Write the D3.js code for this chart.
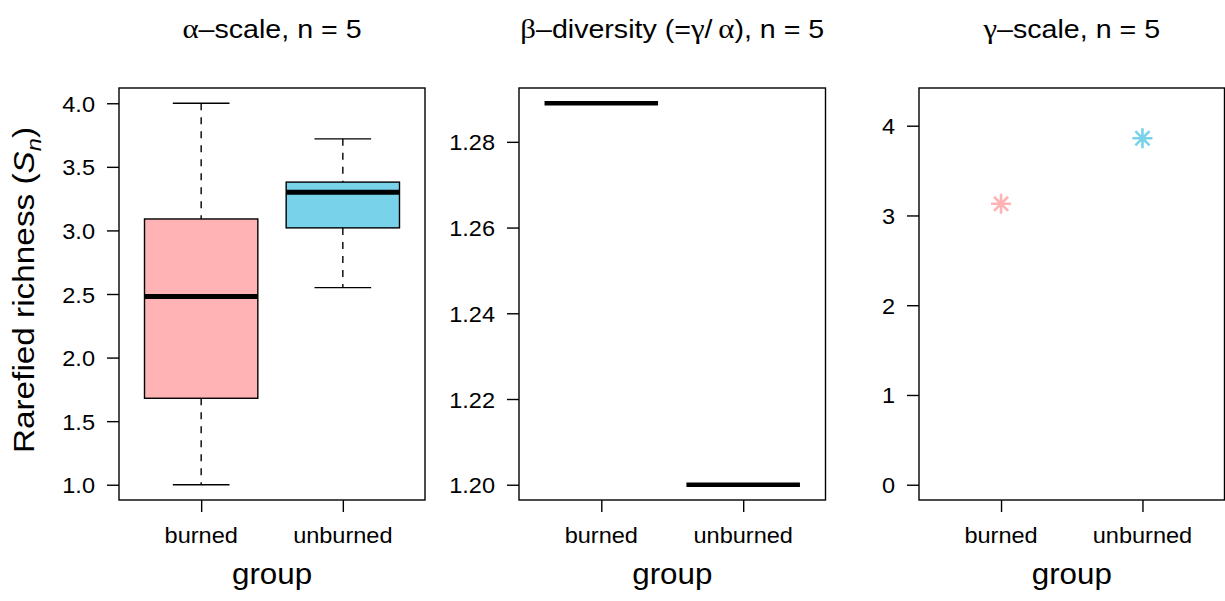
<!DOCTYPE html>
<html>
<head>
<meta charset="utf-8">
<script src="https://cdn.jsdelivr.net/npm/d3@7"></script>
<style>
  html, body { margin: 0; padding: 0; background: #fff; }
  svg { display: block; }
  text { font-family: "Liberation Sans", Arial, Helvetica, sans-serif; fill: #000; }
</style>
</head>
<body>
<svg id="chart" width="1225" height="601"></svg>
<script>
// ---------------- data ----------------
const groups = ["burned", "unburned"];
const groupColors = ["#FFB3B5", "#78D2EA"];

// alpha-scale boxplot statistics (rarefied richness)
const alphaLowerWhisker = [1.00, 2.55];
const alphaQ1           = [1.68, 3.02];
const alphaMedian       = [2.48, 3.30];
const alphaQ3           = [3.09, 3.38];
const alphaUpperWhisker = [4.00, 3.72];

// beta-diversity (gamma / alpha), one value per group
const betaValues = [1.289, 1.200];

// gamma-scale rarefied richness, one value per group
const gammaValues = [3.13, 3.86];

const alphaTicks = [1.0, 1.5, 2.0, 2.5, 3.0, 3.5, 4.0];
const betaTicks  = [1.20, 1.22, 1.24, 1.26, 1.28];
const gammaTicks = [0, 1, 2, 3, 4];

const titles = [
  [["α", "g"], ["–scale, n = 5", "s"]],
  [["β", "g"], ["–diversity (=", "s"], ["γ", "g"], ["/\u2009", "s"], ["α", "g"], ["), n = 5", "s"]],
  [["γ", "g"], ["–scale, n = 5", "s"]]
];
const xLabel = "group";

// ---------------- layout ----------------
const svg = d3.select("#chart");
const TOP = 88, BOTTOM = 500;
const panels = [
  { x0: 119, x1: 425 },
  { x0: 519, x1: 825.5 },
  { x0: 919, x1: 1224.5 }
];
const LW = 1.4;        // general line width

function xScaleFor(p) {
  return d3.scaleLinear().domain([0.42, 2.58]).range([p.x0, p.x1]);
}
function padDomain(lo, hi) {
  const r = hi - lo;
  return [lo - 0.04 * r, hi + 0.04 * r];
}

const yAlpha = d3.scaleLinear().domain(padDomain(1.0, 4.0)).range([BOTTOM, TOP]);
const yBeta  = d3.scaleLinear().domain(padDomain(d3.min(betaValues), d3.max(betaValues))).range([BOTTOM, TOP]);
const yGamma = d3.scaleLinear().domain(padDomain(0, 4.25)).range([BOTTOM, TOP]);

function label(g, x, y, str, size, anchor, sx) {
  return g.append("text")
    .attr("transform", `translate(${x},${y}) scale(${sx},1)`)
    .attr("text-anchor", anchor)
    .attr("font-size", size)
    .text(str);
}

function drawFrame(p, yScale, ticks, fmt) {
  const g = svg.append("g");
  const xs = xScaleFor(p);
  // y axis ticks
  const yAx = d3.axisLeft(yScale).tickValues(ticks).tickSize(12).tickFormat("");
  const ya = g.append("g").attr("transform", `translate(${p.x0},0)`).call(yAx);
  ya.select(".domain").remove();
  ya.selectAll("line").attr("stroke", "#000").attr("stroke-width", LW);
  ticks.forEach(t => label(g, p.x0 - 24, yScale(t) + 8.5, fmt(t), 22, "end", 1.07));
  // x axis ticks
  const xAx = d3.axisBottom(xs).tickValues([1, 2]).tickSize(12).tickFormat("");
  const xa = g.append("g").attr("transform", `translate(0,${BOTTOM})`).call(xAx);
  xa.select(".domain").remove();
  xa.selectAll("line").attr("stroke", "#000").attr("stroke-width", LW);
  groups.forEach((gr, i) => label(g, xs(i + 1), 543, gr, 22, "middle", 1.07));
  // box
  g.append("rect")
    .attr("x", p.x0).attr("y", TOP)
    .attr("width", p.x1 - p.x0).attr("height", BOTTOM - TOP)
    .attr("fill", "none").attr("stroke", "#000").attr("stroke-width", LW);
  // x label
  label(g, (p.x0 + p.x1) / 2, 584, xLabel, 29, "middle", 1.08);
  return { g, xs };
}

function drawTitle(p, parts) {
  const t = svg.append("text")
    .attr("transform", `translate(${(p.x0 + p.x1) / 2},38) scale(1.1,1)`)
    .attr("text-anchor", "middle")
    .attr("font-size", 26);
  parts.forEach(([s, kind]) => {
    const ts = t.append("tspan").text(s);
    if (kind === "g") ts.style("font-family", "'Liberation Serif', 'DejaVu Serif', serif").attr("font-size", 28);
  });
}

// ---------------- panel 1: alpha boxplot ----------------
{
  const p = panels[0];
  const { g, xs } = drawFrame(p, yAlpha, alphaTicks, d3.format(".1f"));
  const bw = 0.8, cw = 0.4;
  groups.forEach((gr, i) => {
    const c = i + 1;
    // whiskers (dashed)
    g.append("line")
      .attr("x1", xs(c)).attr("x2", xs(c))
      .attr("y1", yAlpha(alphaUpperWhisker[i])).attr("y2", yAlpha(alphaQ3[i]))
      .attr("stroke", "#000").attr("stroke-width", LW).attr("stroke-dasharray", "7,7");
    g.append("line")
      .attr("x1", xs(c)).attr("x2", xs(c))
      .attr("y1", yAlpha(alphaQ1[i])).attr("y2", yAlpha(alphaLowerWhisker[i]))
      .attr("stroke", "#000").attr("stroke-width", LW).attr("stroke-dasharray", "7,7");
    // staples
    [alphaUpperWhisker[i], alphaLowerWhisker[i]].forEach(v => {
      g.append("line")
        .attr("x1", xs(c - cw / 2)).attr("x2", xs(c + cw / 2))
        .attr("y1", yAlpha(v)).attr("y2", yAlpha(v))
        .attr("stroke", "#000").attr("stroke-width", LW);
    });
    // box
    g.append("rect")
      .attr("x", xs(c - bw / 2)).attr("width", xs(c + bw / 2) - xs(c - bw / 2))
      .attr("y", yAlpha(alphaQ3[i])).attr("height", yAlpha(alphaQ1[i]) - yAlpha(alphaQ3[i]))
      .attr("fill", groupColors[i]).attr("stroke", "#000").attr("stroke-width", LW);
    // median
    g.append("line")
      .attr("x1", xs(c - bw / 2)).attr("x2", xs(c + bw / 2))
      .attr("y1", yAlpha(alphaMedian[i])).attr("y2", yAlpha(alphaMedian[i]))
      .attr("stroke", "#000").attr("stroke-width", 5);
  });
  drawTitle(p, titles[0]);
}

// ---------------- panel 2: beta ----------------
{
  const p = panels[1];
  const { g, xs } = drawFrame(p, yBeta, betaTicks, d3.format(".2f"));
  const bw = 0.8;
  groups.forEach((gr, i) => {
    const c = i + 1;
    g.append("line")
      .attr("x1", xs(c - bw / 2)).attr("x2", xs(c + bw / 2))
      .attr("y1", yBeta(betaValues[i])).attr("y2", yBeta(betaValues[i]))
      .attr("stroke", "#000").attr("stroke-width", 4.5);
  });
  drawTitle(p, titles[1]);
}

// ---------------- panel 3: gamma ----------------
{
  const p = panels[2];
  const { g, xs } = drawFrame(p, yGamma, gammaTicks, d3.format("d"));
  const r = 10, d = r * Math.SQRT1_2;
  const star = `M${-r},0L${r},0M0,${-r}L0,${r}M${-d},${-d}L${d},${d}M${-d},${d}L${d},${-d}`;
  groups.forEach((gr, i) => {
    g.append("path")
      .attr("d", star)
      .attr("transform", `translate(${xs(i + 1)},${yGamma(gammaValues[i])})`)
      .attr("fill", "none").attr("stroke", groupColors[i]).attr("stroke-width", 2.6);
  });
  drawTitle(p, titles[2]);
}

// ---------------- y axis label ----------------
{
  const t = svg.append("text")
    .attr("transform", "translate(34,290) rotate(-90) scale(1.13,1)")
    .attr("text-anchor", "middle")
    .attr("font-size", 29.5);
  t.append("tspan").text("Rarefied richness (");
  t.append("tspan").text("S").style("font-style", "italic");
  t.append("tspan").text("n").style("font-style", "italic").attr("font-size", 21).attr("dy", 7);
  t.append("tspan").text(")").attr("dy", -7);
}
</script>
</body>
</html>
